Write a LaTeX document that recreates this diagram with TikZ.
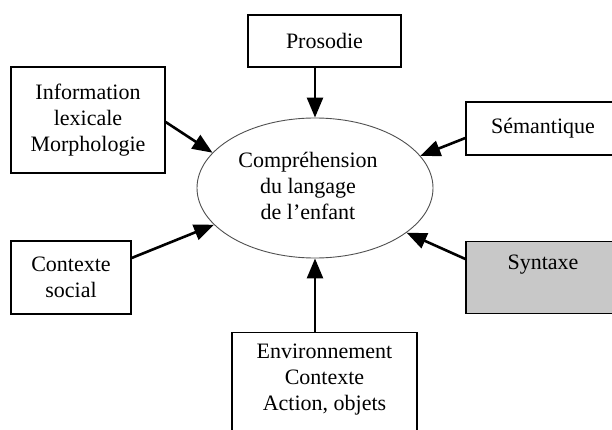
\documentclass[tikz,border=0pt]{standalone}
\usepackage{fontspec}
\setmainfont{Liberation Serif}
\usetikzlibrary{arrows.meta,shapes.geometric}
\definecolor{boxgray}{HTML}{C8C8C8}
\definecolor{ellcol}{HTML}{505050}
\begin{document}
\begin{tikzpicture}[x=1pt,y=-1pt,
  txt/.style={align=center,font=\fontsize{22}{26}\selectfont,inner sep=0pt},
  box/.style={draw,line width=1.3pt,rectangle,inner sep=0pt,align=center,font=\fontsize{22}{26}\selectfont},
  arr/.style={line width=2.6pt,-{Triangle[length=20pt,width=16pt]}}]
\useasboundingbox (0,0) rectangle (612,430);
\clip (0,0) rectangle (612,430);
\fill[white] (0,0) rectangle (612,430);
% central ellipse
\node[ellipse,draw=ellcol,line width=0.9pt,minimum width=236pt,minimum height=140pt,inner sep=0pt] (ell) at (315,188) {};
\node[txt] (ellt) at (308,186) {Compréhension\\du langage\\de l’enfant};
% boxes
\node[box,minimum width=153pt,minimum height=52pt] (pros) at (324.5,41) {Prosodie};
\node[box,minimum width=154pt,minimum height=106pt] (info) at (88,120) {Information\\lexicale\\Morphologie};
\node[box,minimum width=154pt,minimum height=53pt] (sem) at (543,128.5) {Sémantique};
\node[box,minimum width=120pt,minimum height=73pt] (ctx) at (71,277.5) {Contexte\\social};
\node[box,fill=boxgray,minimum width=154pt,minimum height=72pt] (syn) at (543,277.5) {};
\node[txt] (synt) at (543,265) {Syntaxe};
\node[box,anchor=north,minimum width=185pt,minimum height=120pt] (env) at (324.5,332) {};
\node[txt] (envt) at (324.5,380) {Environnement\\Contexte\\Action, objets};
% arrows
\draw[arr] (ell.north |- pros.south) -- (ell.north);
\draw[arr] (ell.south |- env.north) -- (ell.south);
\draw[arr] ([yshift=-2pt]info.east) -- (ell.161);
\draw[arr] ([yshift=-9.5pt]sem.west) -- (ell.17.6);
\draw[arr] ([yshift=19.5pt]ctx.east) -- (ell.200);
\draw[arr] ([yshift=18.5pt]syn.west) -- (ell.334);
\end{tikzpicture}
\end{document}
